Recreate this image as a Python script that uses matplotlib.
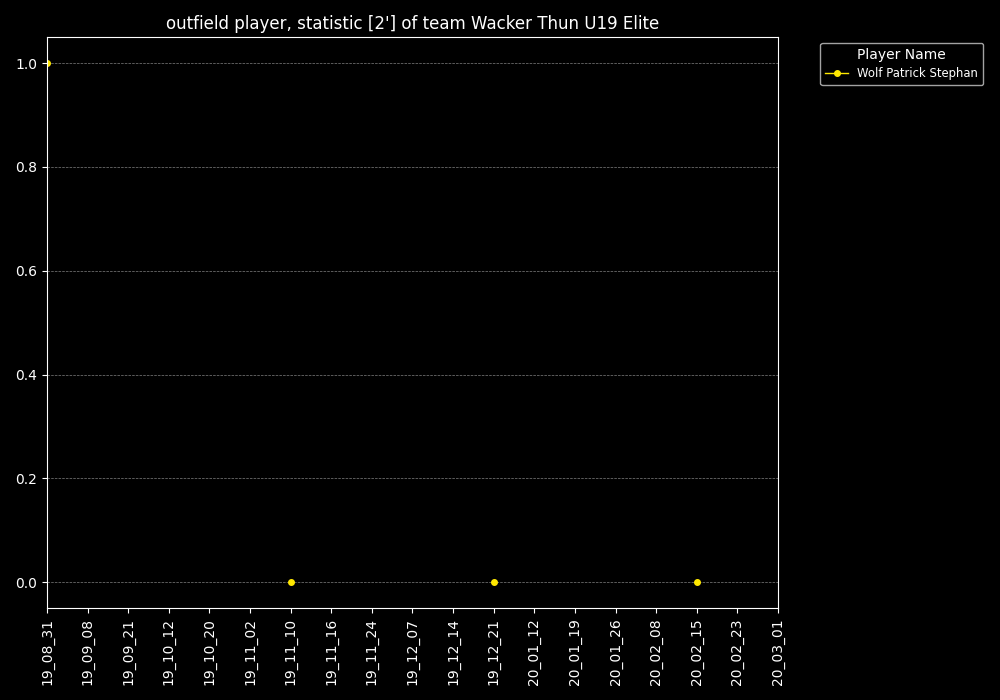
import numpy as np
import matplotlib
matplotlib.use("Agg")
import matplotlib.pyplot as plt

plt.style.use("dark_background")

dates = ["19_08_31", "19_09_08", "19_09_21", "19_10_12", "19_10_20", "19_11_02",
         "19_11_10", "19_11_16", "19_11_24", "19_12_07", "19_12_14", "19_12_21",
         "20_01_12", "20_01_19", "20_01_26", "20_02_08", "20_02_15", "20_02_23",
         "20_03_01"]
nan = np.nan
wolf = [1, nan, nan, nan, nan, nan, 0, nan, nan, nan, nan, 0,
        nan, nan, nan, nan, 0, nan, nan]

fig, ax = plt.subplots(figsize=(10, 7), dpi=100)
fig.subplots_adjust(left=0.047, right=0.778, top=0.947, bottom=0.131)

x = np.arange(len(dates))
ax.plot(x, wolf, marker="o", markersize=4, linewidth=1, color="#FFE800",
        label="Wolf Patrick Stephan")

ax.set_xticks(x)
ax.set_xticklabels(dates, rotation=90)
ax.set_xlim(0, len(dates) - 1)
ax.set_ylim(-0.05, 1.05)
ax.yaxis.grid(True, linestyle="--", color="gray", linewidth=0.5)
ax.set_title("outfield player, statistic [2'] of team Wacker Thun U19 Elite")
ax.legend(title="Player Name", bbox_to_anchor=(1.05, 1), loc="upper left",
          fontsize="small")

fig.savefig("out.png")
